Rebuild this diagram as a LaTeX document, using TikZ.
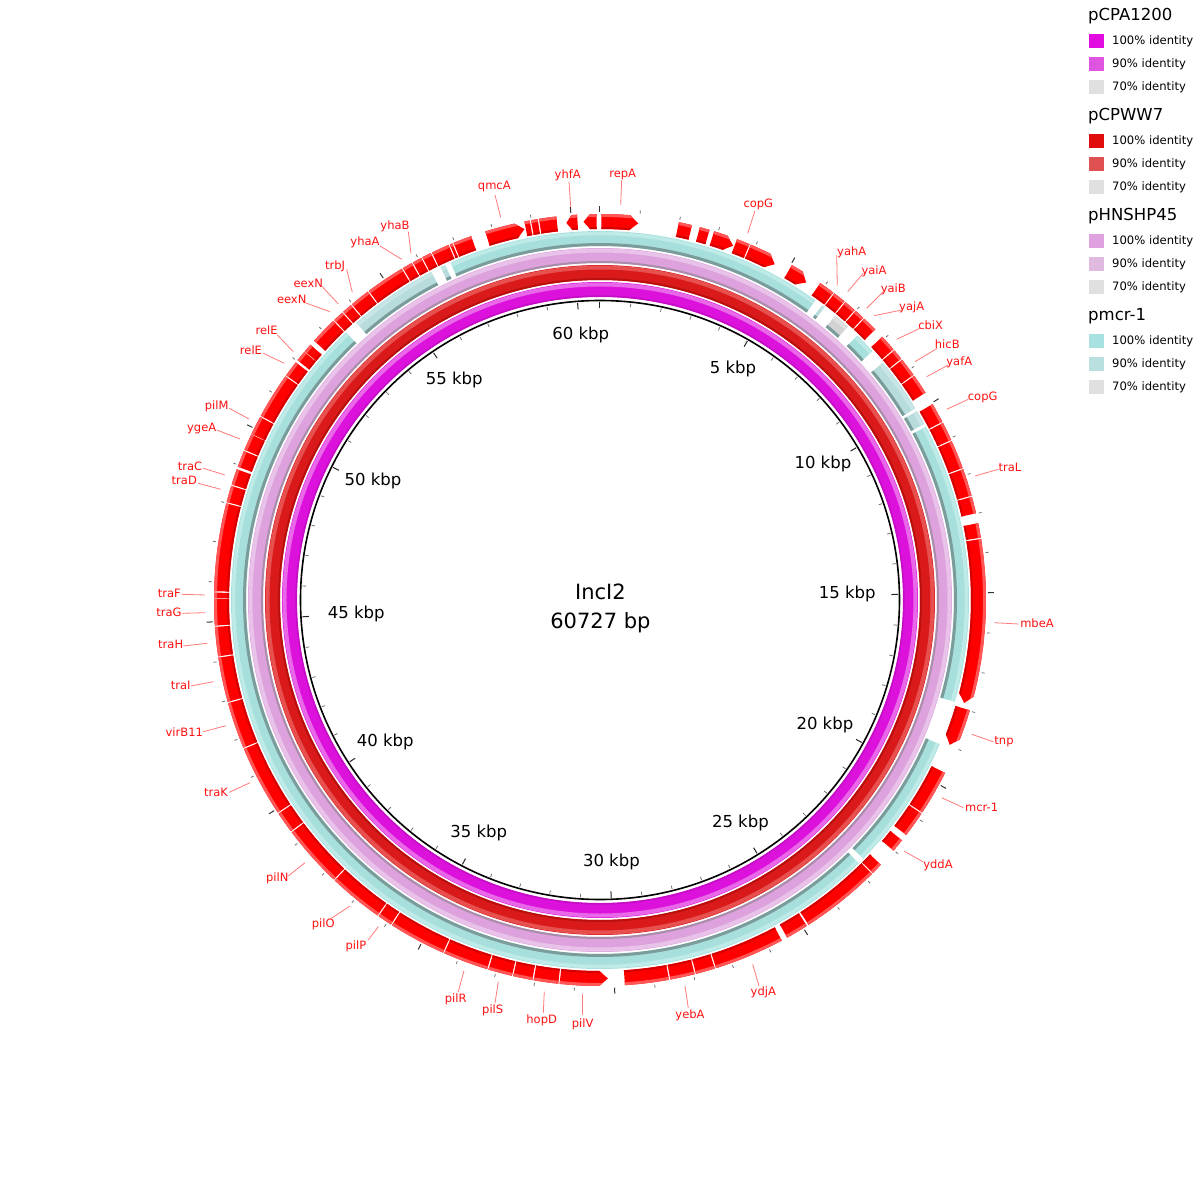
\documentclass[tikz,border=0pt]{standalone}
\usepackage{fontspec}
\setmainfont{DejaVu Sans}
\definecolor{gred}{HTML}{FF0000}
\definecolor{ghi}{HTML}{FF5555}
\definecolor{gdk}{HTML}{D40000}
\definecolor{magA}{HTML}{DC12DC}
\definecolor{magH}{HTML}{E868E8}
\definecolor{magD}{HTML}{C40EC4}
\definecolor{redA}{HTML}{DA1A1A}
\definecolor{redH}{HTML}{E85050}
\definecolor{redD}{HTML}{B81010}
\definecolor{pnkA}{HTML}{DDA2DD}
\definecolor{pnkH}{HTML}{E9C2E9}
\definecolor{pnkD}{HTML}{A88CA8}
\definecolor{cyA}{HTML}{A7DFDD}
\definecolor{cyH}{HTML}{BEEAE8}
\definecolor{cyD}{HTML}{7C9C9C}
\definecolor{cyP}{HTML}{B7DCDB}
\definecolor{cyPH}{HTML}{C8E6E5}
\definecolor{lbl}{HTML}{FF1010}
\definecolor{ldr}{HTML}{FF7A7A}
\definecolor{lgA1}{HTML}{E20CE0}
\definecolor{lgA2}{HTML}{E055DF}
\definecolor{lgB1}{HTML}{E00C0C}
\definecolor{lgB2}{HTML}{E05252}
\definecolor{lgC1}{HTML}{DFA2DF}
\definecolor{lgC2}{HTML}{E0B9E0}
\definecolor{lgD1}{HTML}{A7E1E0}
\definecolor{lgD2}{HTML}{B9E0DF}
\definecolor{lg7}{HTML}{E0E0E0}
\newcommand{\Gfill}[1]{%
  \begin{scope}
    \clip #1;
    \fill[gred] (0,0) circle (390pt);
    \draw[ghi,line width=3pt] (0,0) circle (384.5pt);
    \draw[gdk,line width=2pt] (0,0) circle (372pt);
  \end{scope}}
\newcommand{\G}[3]{%
  \pgfmathsetmacro\aA{90-(#1)}%
  \pgfmathsetmacro\aB{90-(#2)}%
  \pgfmathsetmacro\gT{min(1.3,((#2)-(#1))*0.5)}%
  \ifcase#3\relax
    \Gfill{(\aA:386pt) arc[start angle=\aA,end angle=\aB,radius=386pt] -- (\aB:371pt) arc[start angle=\aB,end angle=\aA,radius=371pt] -- cycle}%
  \or
    \pgfmathsetmacro\aS{\aB+\gT}%
    \Gfill{(\aA:386pt) arc[start angle=\aA,end angle=\aS,radius=386pt] -- (\aB:378.5pt) -- (\aS:371pt) arc[start angle=\aS,end angle=\aA,radius=371pt] -- cycle}%
  \or
    \pgfmathsetmacro\aS{\aA-\gT}%
    \Gfill{(\aA:378.5pt) -- (\aS:386pt) arc[start angle=\aS,end angle=\aB,radius=386pt] -- (\aB:371pt) arc[start angle=\aB,end angle=\aS,radius=371pt] -- cycle}%
  \fi}
% cyan ring segment: theta1 theta2 base highlight
\newcommand{\C}[4]{%
  \pgfmathsetmacro\aA{90-(#1)}%
  \pgfmathsetmacro\aB{90-(#2)}%
  \draw[#3,line width=15pt] (\aA:361.5pt) arc[start angle=\aA,end angle=\aB,radius=361.5pt];
  \draw[#4,line width=3.5pt] (\aA:366.5pt) arc[start angle=\aA,end angle=\aB,radius=366.5pt];
  \draw[cyD,line width=3pt] (\aA:355.5pt) arc[start angle=\aA,end angle=\aB,radius=355.5pt];}
\newcommand{\Lb}[8]{%
  \node[glab] (#1) at ({#3-600},{600-#4}) {#2};
  \coordinate (#1a) at ({#5-600},{600-#6});
  \coordinate (#1b) at ({#7-600},{600-#8});
  \draw[leader] (#1a) -- (#1b);}
\newcommand{\Lg}[5]{% name title y c1 c2
  \node[lgtitle] (#1) at (488,{600-#3}) {#2};
  \fill[#4] (489,{600-#3-18}) rectangle (504,{600-#3-32});
  \node[lgtext] (#1x) at (512,{600-#3-25}) {100\% identity};
  \fill[#5] (489,{600-#3-41}) rectangle (504,{600-#3-55});
  \node[lgtext] (#1y) at (512,{600-#3-48}) {90\% identity};
  \fill[lg7] (489,{600-#3-64}) rectangle (504,{600-#3-78});
  \node[lgtext] (#1z) at (512,{600-#3-71}) {70\% identity};}
\begin{document}
\begin{tikzpicture}[x=1pt,y=1pt,
  glab/.style={text=lbl,font=\fontsize{11.5}{12}\selectfont,inner sep=0pt},
  leader/.style={draw=ldr,line width=0.8pt},
  axlab/.style={font=\fontsize{16.5}{18}\selectfont,inner sep=0pt},
  lgtitle/.style={anchor=west,font=\fontsize{16.5}{18}\selectfont,inner sep=0pt},
  lgtext/.style={anchor=west,font=\fontsize{11.6}{12}\selectfont,inner sep=0pt}]
\useasboundingbox (-600,-600) rectangle (600,600);
\fill[white] (-600,-600) rectangle (600,600);
% ---- inner rings
\draw[magA,line width=15pt] (0,0) circle (310.5pt);
\draw[magH,line width=4pt] (0,0) circle (315.5pt);
\draw[magD,line width=1.5pt] (0,0) circle (304pt);
\draw[redA,line width=15pt] (0,0) circle (327.5pt);
\draw[redH,line width=4pt] (0,0) circle (332.5pt);
\draw[redD,line width=2pt] (0,0) circle (321pt);
\draw[pnkA,line width=15pt] (0,0) circle (344.5pt);
\draw[pnkH,line width=4pt] (0,0) circle (349.5pt);
\draw[pnkD,line width=2pt] (0,0) circle (338pt);
% ---- cyan ring (pmcr-1)
\C{-23.9}{35.7}{cyA}{cyH}
\C{37.0}{37.5}{cyP}{cyPH}
\C{39.6}{42.2}{lg7!85!gray}{lg7}
\C{44.2}{47.6}{cyA}{cyH}
\C{50.0}{58.7}{cyP}{cyPH}
\C{59.2}{61.5}{cyP}{cyPH}
\C{62.0}{106.0}{cyA}{cyH}
\C{113.0}{134.5}{cyA}{cyH}
\C{135.5}{316.5}{cyA}{cyH}
\C{318.7}{332.8}{cyP}{cyPH}
\C{334.4}{335.2}{cyP}{cyPH}
% ---- backbone and ticks
\draw[black,line width=1.6pt] (0,0) circle (299.5pt);
\foreach \k in {0,...,60}{
  \pgfmathsetmacro\ang{90-\k*5.92817}
  \pgfmathtruncatemacro\mj{mod(\k,5)==0 ? 1 : 0}
  \ifnum\mj=1
    \draw[black!85,line width=1pt] (\ang:291.5pt) -- (\ang:298pt);
    \draw[black!80,line width=1pt] (\ang:388pt) -- (\ang:394pt);
  \else
    \draw[black!55,line width=0.8pt] (\ang:294.5pt) -- (\ang:298pt);
    \draw[black!55,line width=0.8pt] (\ang:388.5pt) -- (\ang:391.5pt);
  \fi}
% ---- axis labels
\node[axlab] (k60) at ({580.8-600},{600-335.1}) {60 kbp};
\node[axlab] (k5) at ({733-600},{600-369}) {5 kbp};
\node[axlab] (k10) at ({822.9-600},{600-463.7}) {10 kbp};
\node[axlab] (k15) at ({847.3-600},{600-594.3}) {15 kbp};
\node[axlab] (k20) at ({824.9-600},{600-724.9}) {20 kbp};
\node[axlab] (k25) at ({740.4-600},{600-822.9}) {25 kbp};
\node[axlab] (k30) at ({611.4-600},{600-862.4}) {30 kbp};
\node[axlab] (k35) at ({478.8-600},{600-833}) {35 kbp};
\node[axlab] (k40) at ({385.3-600},{600-742}) {40 kbp};
\node[axlab] (k45) at ({356.3-600},{600-613.5}) {45 kbp};
\node[axlab] (k50) at ({373-600},{600-481}) {50 kbp};
\node[axlab] (k55) at ({454.3-600},{600-380}) {55 kbp};
\node[font=\fontsize{21}{23}\selectfont,inner sep=0pt] (title) at (0.4,{600-592.2}) {IncI2};
\node[font=\fontsize{21}{23}\selectfont,inner sep=0pt] (size) at (0.4,{600-622.9}) {60727 bp};
% ---- genes (theta clockwise from top, degrees)
\G{0.2}{5.8}{1}
\G{11.8}{13.8}{0}
\G{15.0}{16.5}{0}
\G{17.2}{20.6}{1}
\G{20.8}{22.8}{0}
\G{23.0}{27.5}{1}
\G{29.8}{33.0}{1}
\G{34.8}{37.2}{0}
\G{37.4}{39.3}{0}
\G{39.5}{41.3}{0}
\G{41.5}{43.0}{0}
\G{43.2}{45.5}{0}
\G{47.0}{49.5}{0}
\G{49.7}{51.3}{0}
\G{51.5}{54.3}{0}
\G{54.5}{57.5}{0}
\G{59.5}{62.5}{0}
\G{62.7}{65.5}{0}
\G{65.7}{70.0}{0}
\G{70.2}{74.3}{0}
\G{74.5}{77.0}{0}
\G{78.5}{80.7}{0}
\G{80.9}{105.8}{1}
\G{106.6}{112.5}{1}
\G{116.6}{123.4}{0}
\G{123.6}{127.5}{0}
\G{128.5}{130.5}{0}
\G{133.3}{135.0}{0}
\G{135.2}{147.3}{0}
\G{147.6}{151.0}{0}
\G{151.9}{162.5}{0}
\G{162.7}{165.6}{0}
\G{165.8}{169.5}{0}
\G{169.7}{176.3}{0}
\G{178.8}{186.0}{2}
\G{186.2}{189.9}{0}
\G{190.1}{193.0}{0}
\G{193.2}{196.8}{0}
\G{197.0}{203.8}{0}
\G{204.0}{212.6}{0}
\G{212.8}{215.0}{0}
\G{215.2}{223.4}{0}
\G{223.6}{233.0}{0}
\G{233.2}{236.4}{0}
\G{236.6}{247.3}{0}
\G{247.5}{254.5}{0}
\G{254.7}{261.4}{0}
\G{261.6}{266.0}{0}
\G{266.2}{270.2}{0}
\G{270.3}{271.1}{0}
\G{271.3}{284.5}{0}
\G{284.7}{287.2}{0}
\G{287.4}{289.8}{0}
\G{290.2}{292.7}{0}
\G{292.9}{295.4}{0}
\G{295.5}{298.3}{0}
\G{298.5}{305.4}{0}
\G{305.6}{308.0}{0}
\G{308.4}{310.0}{0}
\G{310.1}{311.4}{0}
\G{312.2}{316.3}{0}
\G{316.5}{318.1}{0}
\G{318.3}{319.8}{0}
\G{320.0}{323.0}{0}
\G{323.2}{329.1}{0}
\G{329.3}{330.8}{0}
\G{331.0}{332.4}{0}
\G{332.6}{334.0}{0}
\G{334.2}{336.9}{0}
\G{337.1}{337.5}{0}
\G{337.7}{340.5}{0}
\G{342.7}{348.5}{1}
\G{348.7}{349.5}{0}
\G{349.7}{350.7}{0}
\G{350.9}{353.5}{0}
\G{354.9}{356.6}{2}
\G{357.5}{359.5}{2}
% ---- gene labels
\Lb{qmcA}{qmcA}{494.3}{186.7}{495}{195}{500.7}{217.3}
\Lb{yhfA}{yhfA}{567.7}{175}{569}{181.7}{570.7}{206.7}
\Lb{repA}{repA}{622.7}{174.3}{621.7}{180}{620.7}{205}
\Lb{copGa}{copG}{758.3}{204}{755}{210.7}{747.7}{233.3}
\Lb{yahA}{yahA}{851.7}{252.7}{836.7}{255}{837.3}{285.7}
\Lb{yaiA}{yaiA}{874}{271.7}{863.3}{273.3}{847.7}{291.7}
\Lb{yaiB}{yaiB}{893.3}{289.3}{883.3}{291.7}{866.7}{308.3}
\Lb{yajA}{yajA}{911.7}{307.7}{901.7}{310}{874}{315.7}
\Lb{cbiX}{cbiX}{930.7}{325}{920}{328.3}{896.7}{339.3}
\Lb{hicB}{hicB}{947.3}{344.3}{937.3}{348.3}{915}{361.7}
\Lb{yafA}{yafA}{959.3}{362.7}{948.3}{365}{926.7}{376.7}
\Lb{copGb}{copG}{982.7}{397.7}{968.3}{399.3}{946.7}{409.3}
\Lb{traL}{traL}{1010}{467.7}{998.3}{469.3}{975}{476}
\Lb{mbeA}{mbeA}{1037}{623}{1018.3}{624}{994.3}{622.7}
\Lb{tnp}{tnp}{1004}{741.7}{993.3}{741.7}{971.7}{734.3}
\Lb{mcr}{mcr-1}{981.7}{807.3}{963.3}{807.7}{941.7}{797.7}
\Lb{yddA}{yddA}{938}{865}{923.3}{862}{904}{851}
\Lb{ydjA}{ydjA}{763.3}{992.7}{759}{986}{752.7}{964.3}
\Lb{yebA}{yebA}{690}{1015}{688.3}{1008}{685}{986}
\Lb{pilV}{pilV}{582.7}{1024}{582.7}{1015}{582.7}{994}
\Lb{hopD}{hopD}{541.7}{1020}{543.3}{1013}{544.3}{991.7}
\Lb{pilS}{pilS}{492.7}{1010.7}{495}{1003.3}{498.3}{981.7}
\Lb{pilR}{pilR}{455.7}{999}{458.3}{991.7}{464}{970.7}
\Lb{pilP}{pilP}{356}{946.7}{368.3}{940}{378.3}{926.7}
\Lb{pilO}{pilO}{323.3}{924}{330}{919.3}{350}{906}
\Lb{pilN}{pilN}{277.3}{878.3}{288.3}{876}{305}{862.7}
\Lb{traK}{traK}{216}{792.3}{229.3}{792.3}{250}{782.7}
\Lb{virB}{virB11}{184.3}{731.7}{203.3}{731.7}{226}{725.7}
\Lb{traI}{traI}{180.7}{685}{190.7}{686}{213.3}{681.7}
\Lb{traH}{traH}{170.7}{644}{183.3}{646}{207.3}{643.3}
\Lb{traG}{traG}{169}{612.3}{181.7}{613.3}{205}{612.7}
\Lb{traF}{traF}{169.3}{593.3}{181.7}{594.3}{205}{595}
\Lb{traD}{traD}{184.3}{480}{198.3}{483.3}{220.7}{489.3}
\Lb{traC}{traC}{190}{466}{203.3}{468.3}{225}{475}
\Lb{ygeA}{ygeA}{201.7}{429}{216.7}{430}{240}{439}
\Lb{pilM}{pilM}{216.7}{406.7}{229.3}{408.3}{249}{419}
\Lb{relEa}{relE}{251}{350.7}{263.3}{353.3}{284.3}{363.3}
\Lb{relEb}{relE}{266.7}{330.7}{277.3}{335}{293.3}{351.7}
\Lb{eexNa}{eexN}{291.7}{299.3}{305}{302.7}{330}{311.7}
\Lb{eexNb}{eexN}{308.3}{283.3}{321.7}{286}{338.3}{304}
\Lb{trbJ}{trbJ}{335}{266}{346.7}{269.3}{352.3}{292.3}
\Lb{yhaA}{yhaA}{365}{242.7}{380}{246}{401.7}{259.3}
\Lb{yhaB}{yhaB}{395}{226}{408.3}{231.7}{411}{253.3}
% ---- legend
\Lg{lgA}{pCPA1200}{16}{lgA1}{lgA2}
\Lg{lgB}{pCPWW7}{116}{lgB1}{lgB2}
\Lg{lgC}{pHNSHP45}{216}{lgC1}{lgC2}
\Lg{lgD}{pmcr-1}{316}{lgD1}{lgD2}
\end{tikzpicture}
\end{document}
